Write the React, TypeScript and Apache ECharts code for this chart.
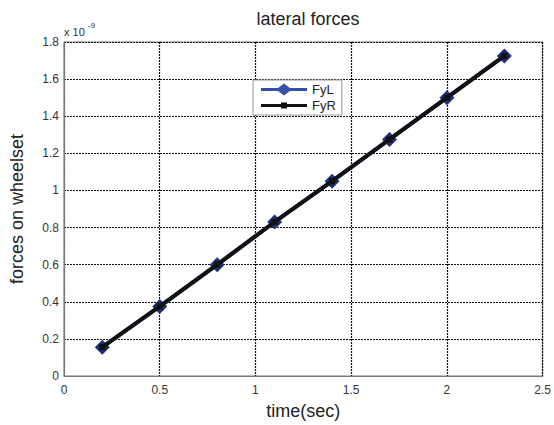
import React, { useEffect, useRef } from "react";
import * as echarts from "echarts";

const timeValues = [0.2, 0.5, 0.8, 1.1, 1.4, 1.7, 2.0, 2.3];
const fyL = [0.155, 0.375, 0.6, 0.83, 1.05, 1.275, 1.5, 1.725];
const fyR = [0.155, 0.375, 0.6, 0.83, 1.05, 1.275, 1.5, 1.725];

export default function App() {
  const ref = useRef<HTMLDivElement>(null);
  useEffect(() => {
    document.body.style.margin = "0";
    const chart = echarts.init(ref.current!, null, { renderer: "svg" });
    const font = "Liberation Sans, Arial, sans-serif";
    chart.setOption({
      animation: false,
      backgroundColor: "#ffffff",
      textStyle: { fontFamily: font },
      title: {
        text: "lateral forces",
        left: 303,
        top: 5,
        textAlign: "center",
        textStyle: { fontSize: 18, fontWeight: "normal", color: "#222", fontFamily: font },
      },
      graphic: [
        {
          type: "text",
          left: 64,
          top: 26,
          style: { text: "x 10", fontSize: 11, fill: "#333", fontFamily: font },
        },
        {
          type: "text",
          left: 88,
          top: 21,
          style: { text: "-9", fontSize: 8, fill: "#333", fontFamily: font },
        },
      ],
      legend: {
        left: 253,
        top: 80,
        orient: "vertical",
        itemWidth: 46,
        itemHeight: 12,
        itemGap: 3,
        padding: [3, 6, 3, 8],
        borderColor: "#999",
        borderWidth: 1,
        backgroundColor: "#fff",
        textStyle: { fontSize: 13, color: "#222", fontFamily: font },
        data: [
          {
            name: "FyL",
            icon: "path://M0,4.5L17,4.5L23,0L29,4.5L46,4.5L46,7.5L29,7.5L23,12L17,7.5L0,7.5Z",
            itemStyle: { color: "#3550a8" },
          },
          {
            name: "FyR",
            icon: "path://M0,4.5L20,4.5L20,3L26,3L26,4.5L46,4.5L46,7.5L26,7.5L26,9L20,9L20,7.5L0,7.5L0,0.01L0.01,0.01L0.01,12L0,12Z",
            itemStyle: { color: "#111" },
          },
        ],
      },
      grid: { left: 63, right: 11, top: 42, bottom: 48, show: true, borderColor: "#777", borderWidth: 1 },
      xAxis: {
        type: "value",
        min: 0,
        max: 2.5,
        interval: 0.5,
        name: "time(sec)",
        nameLocation: "middle",
        nameGap: 26,
        nameTextStyle: { fontSize: 18, color: "#222", fontFamily: font },
        axisLine: { show: true, onZero: false, lineStyle: { color: "#777" } },
        axisTick: { show: false },
        axisLabel: { fontSize: 12, color: "#333", margin: 8, fontFamily: font },
        splitLine: { show: true, lineStyle: { color: "#111", type: [2, 1], width: 1.2 } },
      },
      yAxis: {
        type: "value",
        min: 0,
        max: 1.8,
        interval: 0.2,
        name: "forces on wheelset",
        nameLocation: "middle",
        nameGap: 38,
        nameTextStyle: { fontSize: 18, color: "#222", fontFamily: font },
        axisLine: { show: true, lineStyle: { color: "#777" } },
        axisTick: { show: false },
        axisLabel: {
          fontSize: 12,
          color: "#333",
          margin: 5,
          fontFamily: font,
          formatter: (v: number) => String(Math.round(v * 10) / 10),
        },
        splitLine: { show: true, lineStyle: { color: "#111", type: [2, 1], width: 1.2 } },
      },
      series: [
        {
          name: "FyL",
          type: "line",
          data: timeValues.map((t, i) => [t, fyL[i]]),
          symbol: "diamond",
          symbolSize: 15,
          itemStyle: { color: "#1f2f7a" },
          lineStyle: { color: "#3550a8", width: 4 },
          z: 2,
        },
        {
          name: "FyR",
          type: "line",
          data: timeValues.map((t, i) => [t, fyR[i]]),
          symbol: "rect",
          symbolSize: 6,
          itemStyle: { color: "#111" },
          lineStyle: { color: "#111", width: 4 },
          z: 3,
        },
      ],
    });
    return () => chart.dispose();
  }, []);
  return <div ref={ref} style={{ width: 554, height: 425 }} />;
}
